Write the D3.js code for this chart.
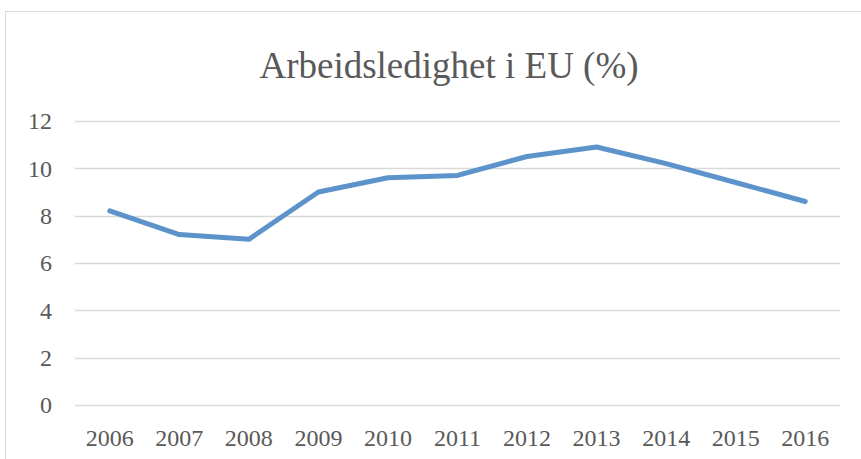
<!DOCTYPE html>
<html>
<head>
<meta charset="utf-8">
<title>Arbeidsledighet i EU</title>
<script src="https://d3js.org/d3.v7.min.js"></script>
<style>
  body { margin: 0; background: #fff; }
  svg { display: block; }
  text { font-family: "Liberation Serif", "Times New Roman", serif; fill: #595959; }
</style>
</head>
<body>
<div id="chart"></div>
<script>
// data
const years = ["2006", "2007", "2008", "2009", "2010", "2011", "2012", "2013", "2014", "2015", "2016"];
const rates = [8.2, 7.2, 7.0, 9.0, 9.6, 9.7, 10.5, 10.9, 10.2, 9.4, 8.6];
const yTicks = [0, 2, 4, 6, 8, 10, 12];
const title = "Arbeidsledighet i EU (%)";

const W = 861, H = 459;
const plotLeft = 75, plotRight = 840, plotTop = 121, plotBottom = 405;

const svg = d3.select("#chart").append("svg")
  .attr("width", W)
  .attr("height", H);

// chart frame
svg.append("rect")
  .attr("x", 5.5).attr("y", 11.5)
  .attr("width", 870).attr("height", 470)
  .attr("fill", "none")
  .attr("stroke", "#d9d9d9");

svg.append("text")
  .attr("x", 449).attr("y", 78)
  .attr("text-anchor", "middle")
  .attr("font-size", 37)
  .text(title);

let x = d3.scaleBand().domain(years).range([plotLeft, plotRight]);
let y = d3.scaleLinear().domain([0, 12]).range([plotBottom, plotTop]);

// gridlines
svg.append("g")
  .selectAll("line")
  .data(yTicks)
  .join("line")
  .attr("x1", plotLeft).attr("x2", plotRight)
  .attr("y1", d => Math.round(y(d)) + 0.5)
  .attr("y2", d => Math.round(y(d)) + 0.5)
  .attr("stroke", "#d9d9d9")
  .attr("stroke-width", 1.5);

let yAxis = d3.axisLeft(y).tickValues(yTicks).tickSize(0).tickPadding(0);
let yg = svg.append("g")
  .attr("transform", "translate(52,0)")
  .call(yAxis);
yg.select(".domain").remove();
yg.selectAll("text")
  .attr("font-family", null)
  .attr("font-size", 24)
  .attr("fill", "#595959");

let xAxis = d3.axisBottom(x).tickSize(0).tickPadding(0);
let xg = svg.append("g")
  .attr("transform", "translate(0,446)")
  .call(xAxis);
xg.select(".domain").remove();
xg.selectAll("text")
  .attr("dy", 0)
  .attr("font-size", 24)
  .attr("fill", "#595959");

let line = d3.line()
  .x((d, i) => x(years[i]) + x.bandwidth() / 2)
  .y(d => y(d));

svg.append("path")
  .datum(rates)
  .attr("d", line)
  .attr("fill", "none")
  .attr("stroke", "#5b93ca")
  .attr("stroke-width", 5)
  .attr("stroke-linecap", "round")
  .attr("stroke-linejoin", "round");
</script>
</body>
</html>
